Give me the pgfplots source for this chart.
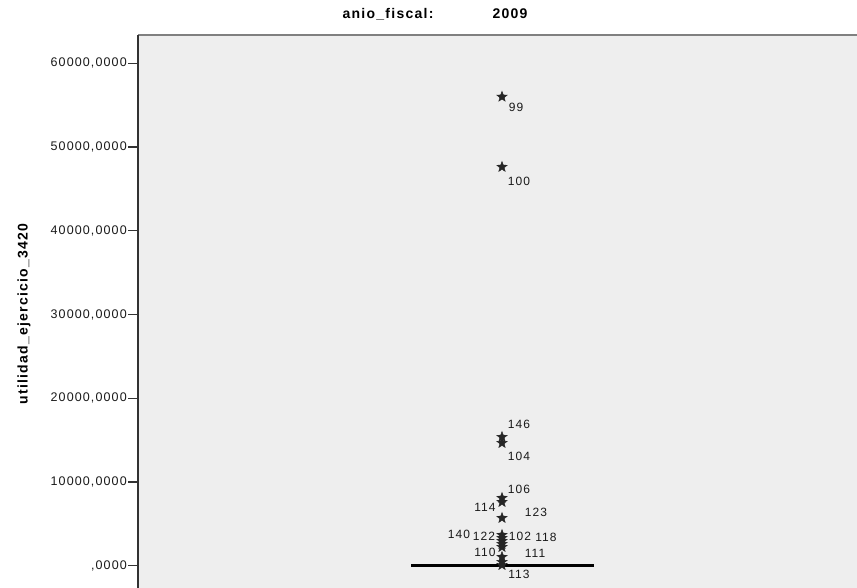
\documentclass[border=0pt]{standalone}
\usepackage{pgfplots}
\pgfplotsset{compat=1.18}
\usepackage{fontspec}
\setmainfont{Liberation Sans}
\newfontfamily\spss[LetterSpace=9]{Liberation Sans}
\definecolor{bgc}{RGB}{238,238,238}
\definecolor{topc}{RGB}{128,128,128}
\definecolor{axc}{RGB}{50,50,50}
\pgfdeclareplotmark{fstar}{%
  \pgfpathmoveto{\pgfpointpolar{90}{\pgfplotmarksize}}%
  \pgfpathlineto{\pgfpointpolar{126}{0.42\pgfplotmarksize}}%
  \pgfpathlineto{\pgfpointpolar{162}{\pgfplotmarksize}}%
  \pgfpathlineto{\pgfpointpolar{198}{0.42\pgfplotmarksize}}%
  \pgfpathlineto{\pgfpointpolar{234}{\pgfplotmarksize}}%
  \pgfpathlineto{\pgfpointpolar{270}{0.42\pgfplotmarksize}}%
  \pgfpathlineto{\pgfpointpolar{306}{\pgfplotmarksize}}%
  \pgfpathlineto{\pgfpointpolar{342}{0.42\pgfplotmarksize}}%
  \pgfpathlineto{\pgfpointpolar{18}{\pgfplotmarksize}}%
  \pgfpathlineto{\pgfpointpolar{54}{0.42\pgfplotmarksize}}%
  \pgfpathclose\pgfusepathqfillstroke}
\begin{document}
\begin{tikzpicture}[x=1pt,y=1pt]
\useasboundingbox (0,0) rectangle (857,588);
\begin{axis}[
  at={(138pt,0pt)}, anchor=south west,
  scale only axis, width=719pt, height=553pt,
  xmin=138, xmax=857, ymin=-2660, ymax=63380,
  axis line style={draw=none},
  xtick=\empty,
  scaled y ticks=false,
  ytick={0,10000,20000,30000,40000,50000,60000},
  yticklabels={{,0000},{10000,0000},{20000,0000},{30000,0000},{40000,0000},{50000,0000},{60000,0000}},
  ytick pos=left, tick align=outside, major tick length=10pt,
  major tick style={axc, line width=1.2pt},
  yticklabel style={font=\spss\fontsize{12.5}{14}\selectfont, text=black!90, inner sep=1pt},
  clip=false,
]
\fill[bgc] (rel axis cs:0,0) rectangle (rel axis cs:1,1);
\addplot[black, line width=2.5pt, forget plot] coordinates {(411,0) (594,0)};
\addplot[only marks, mark=fstar, mark size=5.5pt, mark options={line width=0.4pt, draw=black!85, fill=black!85}] coordinates {
(502,56000) (502,47620) (502,15370) (502,14650) (502,8090) (502,7610) (502,5700)
(502,3670) (502,3310) (502,2950) (502,2590) (502,2230) (502,1040) (502,440) (502,80)
};
\draw[topc, line width=2.2pt] (rel axis cs:0,1) -- (rel axis cs:1,1);
\draw[axc, line width=1.2pt] (rel axis cs:0,0) -- (rel axis cs:0,1);
\begin{scope}[every node/.style={font=\spss\fontsize{12}{14}\selectfont, text=black!90, inner sep=0pt}]
\node at (axis cs:516,54780) {99};
\node at (axis cs:519,45950) {100};
\node at (axis cs:519,16920) {146};
\node at (axis cs:519,13100) {104};
\node at (axis cs:519,9160) {106};
\node at (axis cs:485,7010) {114};
\node at (axis cs:536,6410) {123};
\node at (axis cs:459,3790) {140};
\node at (axis cs:484,3550) {122};
\node at (axis cs:520,3550) {102};
\node at (axis cs:546,3430) {118};
\node at (axis cs:485,1640) {110};
\node at (axis cs:535,1520) {111};
\node at (axis cs:519,-990) {113};
\end{scope}
\end{axis}
\node[font=\spss\bfseries\fontsize{14}{16}\selectfont] at (388,574) {anio\_fiscal:};
\node[font=\spss\bfseries\fontsize{14}{16}\selectfont] at (510,574) {2009};
\node[font=\spss\bfseries\fontsize{14}{16}\selectfont, rotate=90] at (24,274) {utilidad\_ejercicio\_3420};
\end{tikzpicture}
\end{document}
